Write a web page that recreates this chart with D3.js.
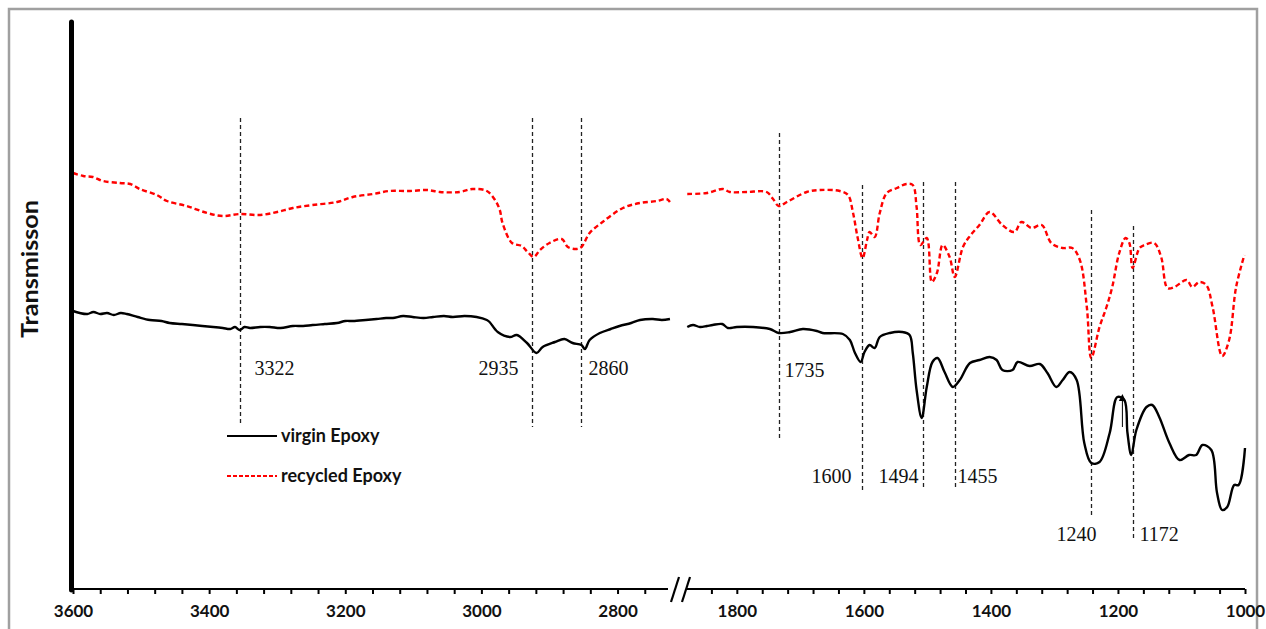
<!DOCTYPE html>
<html>
<head>
<meta charset="utf-8">
<script src="https://cdn.jsdelivr.net/npm/d3@7"></script>
<style>
  html, body { margin: 0; padding: 0; background: #fff; }
  svg { display: block; }
</style>
</head>
<body>
<svg id="chart" width="1266" height="629"></svg>
<script>
// ---------------- DATA (wavenumber cm-1, transmission a.u.) ----------------
const virginLeft = [
  [3600,278],[3590,276],[3579,275],[3570,277],[3560,275],[3550,276],[3540,274],[3530,276],[3521,275],
  [3505,272],[3487,269],[3470,268],[3458,266],[3440,265],[3424,264],[3410,263],[3394,262],[3380,261],
  [3369,260],[3362,262],[3355,259],[3348,262],[3340,261],[3325,262],[3311,262],[3295,261],[3277,263],
  [3262,263],[3248,264],[3230,265],[3212,266],[3200,268],[3189,268],[3170,269],[3154,270],[3140,271],
  [3130,271],[3115,273],[3101,272],[3085,271],[3071,272],[3055,273],[3042,272],[3025,273],[3007,272],
  [2992,269],[2988,267],[2976,257],[2958,252],[2948,254],[2933,246],[2919,236],[2910,242],[2892,247],
  [2878,250],[2866,246],[2853,244],[2848,240],[2841,249],[2826,256],[2810,260],[2797,263],[2780,266],
  [2767,269],[2748,270],[2735,269],[2723,270]
];
const recycledLeft = [
  [3600,416],[3585,413],[3571,412],[3556,408],[3531,406],[3516,405],[3502,400],[3477,394],[3462,388],
  [3433,383],[3403,376],[3380,373],[3355,375],[3325,374],[3300,377],[3277,381],[3248,384],[3212,387],
  [3189,392],[3159,395],[3135,398],[3105,398],[3080,399],[3061,397],[3032,397],[3013,400],[2992,398],
  [2980,389],[2973,379],[2969,366],[2955,346],[2941,343],[2932,337],[2923,332],[2914,339],[2900,346],
  [2882,350],[2873,342],[2860,340],[2853,342],[2841,356],[2822,367],[2792,381],[2767,386],[2742,388],
  [2728,390],[2723,387]
];
const virginRight = [
  [1878,262],[1869,264],[1858,262],[1847,263],[1838,264],[1823,265],[1814,261],[1800,262],[1775,262],
  [1748,260],[1734,256],[1716,257],[1696,260],[1674,258],[1665,256],[1633,255],[1622,249],[1614,236],
  [1605,227],[1599,237],[1591,244],[1583,241],[1575,252],[1559,256],[1540,257],[1528,254],[1523,236],
  [1517,199],[1509,171],[1501,202],[1492,227],[1484,231],[1473,217],[1460,202],[1449,209],[1433,226],
  [1418,229],[1402,232],[1391,229],[1382,219],[1366,219],[1358,227],[1339,223],[1323,225],[1311,216],
  [1297,202],[1287,209],[1276,217],[1265,209],[1253,146],[1242,126],[1229,127],[1213,156],[1201,192],
  [1190,189],[1185,156],[1179,134],[1171,159],[1155,182],[1146,184],[1135,172],[1119,146],[1103,129],
  [1088,134],[1077,134],[1067,144],[1053,139],[1044,96],[1036,79],[1028,82],[1017,104],[1010,104],
  [1000,141]
];
const recycledRight = [
  [1878,395],[1847,396],[1822,400],[1811,397],[1784,397],[1753,397],[1743,390],[1734,383],[1721,387],
  [1690,397],[1669,399],[1638,398],[1625,394],[1617,376],[1610,352],[1602,331],[1595,349],[1591,357],
  [1583,352],[1575,376],[1564,396],[1548,401],[1533,405],[1523,404],[1517,382],[1511,344],[1501,351],
  [1493,307],[1485,316],[1476,344],[1465,332],[1457,312],[1444,342],[1433,353],[1418,364],[1402,377],
  [1382,364],[1363,357],[1352,367],[1336,361],[1320,364],[1305,346],[1287,341],[1272,341],[1260,329],
  [1249,282],[1242,231],[1229,262],[1218,282],[1209,302],[1198,336],[1188,351],[1182,346],[1177,321],
  [1166,341],[1158,344],[1143,346],[1132,332],[1122,301],[1111,302],[1092,309],[1083,302],[1072,307],
  [1061,304],[1051,282],[1036,233],[1025,249],[1014,302],[1001,334]
];
// peak markers: wavenumber where the dashed line sits, and its label
const peakWn     = [3355, 2925, 2854, 1734, 1603, 1507, 1457, 1242, 1177];
const peakLabels = ["3322", "2935", "2860", "1735", "1600", "1494", "1455", "1240", "1172"];
// axis ticks
const leftMajor  = [3600, 3400, 3200, 3000, 2800];
const rightMajor = [1800, 1600, 1400, 1200, 1000];
const seriesNames = ["virgin Epoxy", "recycled Epoxy"];
const yTitle = "Transmisson";

// ---------------- LAYOUT ----------------
const svg = d3.select("#chart");
const axisY = 589;
const xL = d3.scaleLinear().domain([3600, 2720]).range([73, 672]);
const xR = d3.scaleLinear().domain([1880, 1000]).range([686, 1245]);
const y  = d3.scaleLinear().domain([0, 567]).range([axisY, 22]);
const xOf = w => (w > 2000 ? xL(w) : xR(w));

// outer frame
svg.append("rect").attr("x", 9).attr("y", 9).attr("width", 1248).attr("height", 660)
  .attr("fill", "none").attr("stroke", "#a0a0a0").attr("stroke-width", 2.5);

// annotation layout (y in data units): line top, line bottom, label baseline, anchor, dx
const annLayout = [
  [471, 164, 214, "start", 14], [471, 162, 214, "end", -14], [471, 162, 214, "start", 7],
  [456, 149, 212, "start", 5], [404, 96, 106, "end", -11], [407, 99, 106, "end", -5],
  [407, 99, 106, "start", 2], [379, 71, 48, "end", 5], [363, 49, 48, "start", 6]
];
const ann = svg.append("g");
peakWn.forEach((w, i) => {
  const [t, b, ly, anchor, dx] = annLayout[i];
  const x = Math.round(xOf(w)) + 0.5;
  ann.append("line").attr("x1", x).attr("x2", x).attr("y1", y(t)).attr("y2", y(b))
    .attr("stroke", "#222").attr("stroke-width", 1.3).attr("stroke-dasharray", "4,3");
  ann.append("text").attr("x", x + dx).attr("y", y(ly))
    .attr("text-anchor", anchor)
    .attr("font-family", "'Liberation Serif', 'Times New Roman', serif")
    .attr("font-size", 20).attr("fill", "#111").text(peakLabels[i]);
});

// series
const line = (sx) => d3.line().x(d => sx(d[0])).y(d => y(d[1])).curve(d3.curveCatmullRom.alpha(0.5));
const drawSeries = (data, sx, color, dash, w) => {
  svg.append("path").datum(data).attr("d", line(sx))
    .attr("fill", "none").attr("stroke", color).attr("stroke-width", w)
    .attr("stroke-linejoin", "round").attr("stroke-dasharray", dash);
};
drawSeries(recycledLeft, xL, "#ff0000", "5,3", 2.4);
drawSeries(recycledRight, xR, "#ff0000", "5,3", 2.4);
drawSeries(virginLeft, xL, "#000", null, 2.4);
drawSeries(virginRight, xR, "#000", null, 2.4);

// small arrow near 1193 cm-1
const ax = xR(1193);
svg.append("line").attr("x1", ax).attr("x2", ax).attr("y1", y(162)).attr("y2", y(190))
  .attr("stroke", "#000").attr("stroke-width", 1);
svg.append("path")
  .attr("d", d3.line()([[ax - 3.5, y(188)], [ax, y(195)], [ax + 3.5, y(188)]]) + "Z")
  .attr("fill", "#000");

// x axes
const tickFmt = d => (d % 200 === 0 ? d : "");
const gL = svg.append("g").attr("transform", `translate(0,${axisY})`)
  .call(d3.axisBottom(xL).tickValues(d3.range(3600, 2759, -40)).tickFormat(tickFmt)
    .tickSize(5).tickSizeOuter(0));
const gR = svg.append("g").attr("transform", `translate(0,${axisY})`)
  .call(d3.axisBottom(xR).tickValues(d3.range(1840, 999, -40)).tickFormat(tickFmt)
    .tickSize(5).tickSizeOuter(0));
[gL, gR].forEach(g => {
  g.select(".domain").attr("stroke", "#000").attr("stroke-width", 2);
  g.selectAll(".tick line").attr("stroke", "#000").attr("stroke-width", 2);
  g.selectAll(".tick text").attr("font-family", "Lato, 'Open Sans', sans-serif")
    .attr("font-weight", 700).attr("font-size", 17).attr("fill", "#111").attr("dy", "1.2em");
});
gL.select(".domain").attr("d", `M${xL(3600)},0H${xL(2720) - 4}`);
gR.select(".domain").attr("d", `M${xR(1880)},0H${xR(1000)}`);
// break marks
[-4, 7].forEach(dx => {
  const bx = (xL(2720) + xR(1880)) / 2 + dx;
  svg.append("line").attr("x1", bx - 4).attr("x2", bx + 4).attr("y1", axisY + 13).attr("y2", axisY - 12)
    .attr("stroke", "#000").attr("stroke-width", 2.2);
});

// y axis bar
svg.append("line").attr("x1", 71.5).attr("x2", 71.5).attr("y1", y(567)).attr("y2", axisY + 1)
  .attr("stroke", "#000").attr("stroke-width", 5).attr("stroke-linecap", "round");

// y title
svg.append("text").attr("transform", `translate(38,${269}) rotate(-90)`)
  .attr("text-anchor", "middle").attr("font-family", "Lato, 'Open Sans', sans-serif")
  .attr("font-weight", 700).attr("font-size", 22).attr("fill", "#111")
  .attr("textLength", 138).attr("lengthAdjust", "spacingAndGlyphs").text(yTitle);

// legend
const leg = svg.append("g").attr("transform", "translate(227,436)");
seriesNames.forEach((n, i) => {
  const g = leg.append("g").attr("transform", `translate(0,${i * 40})`);
  g.append("line").attr("x1", 0).attr("x2", 50).attr("y1", 0).attr("y2", 0)
    .attr("stroke", i === 0 ? "#000" : "#ff0000").attr("stroke-width", 2)
    .attr("stroke-dasharray", i === 0 ? null : "4,2");
  g.append("text").attr("x", 54).attr("y", 6).attr("font-family", "Lato, 'Open Sans', sans-serif")
    .attr("font-weight", 700).attr("font-size", 18).attr("fill", "#111").text(n);
});
</script>
</body>
</html>
